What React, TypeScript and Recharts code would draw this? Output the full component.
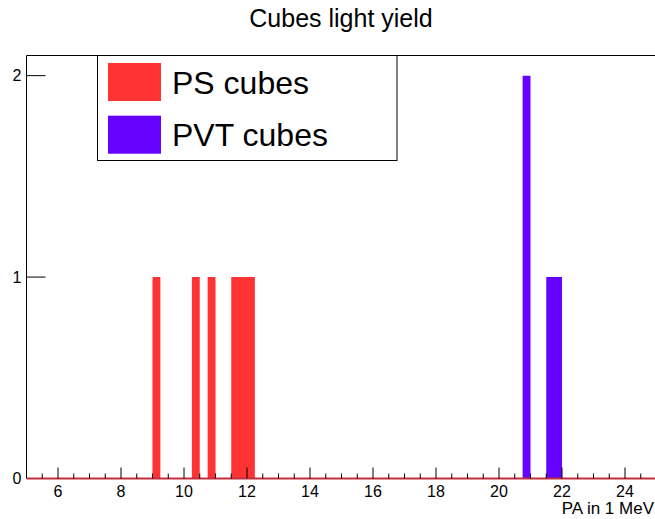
import React from "react";
import {
  ComposedChart,
  Area,
  XAxis,
  YAxis,
  ReferenceLine,
  Legend,
  Customized,
} from "recharts";

// ---- data ----
const BIN_WIDTH = 0.25;
const psBinStarts = [9.0, 10.25, 10.75, 11.5, 11.75, 12.0];
const psCounts = [1, 1, 1, 1, 1, 1];
const pvtBinStarts = [20.75, 21.5, 21.75];
const pvtCounts = [2, 1, 1];

const seriesNames = ["PS cubes", "PVT cubes"];
const seriesKeys = ["ps", "pvt"];
const seriesColors = ["#ff3333", "#6600ff"];

const xMajorTicks = [6, 8, 10, 12, 14, 16, 18, 20, 22, 24];
const xMinorTicks = [
  5.5, 6.5, 7, 7.5, 8.5, 9, 9.5, 10.5, 11, 11.5, 12.5, 13, 13.5, 14.5, 15,
  15.5, 16.5, 17, 17.5, 18.5, 19, 19.5, 20.5, 21, 21.5, 22.5, 23, 23.5, 24.5,
];
const yTicks = [0, 1, 2];
const X_DOMAIN: [number, number] = [5, 25];
const Y_DOMAIN: [number, number] = [0, 2.1];

const TITLE = "Cubes light yield";
const X_TITLE = "PA in 1 MeV";

// build step data (bin edges) from the bin arrays
function countAt(starts: number[], counts: number[], x: number) {
  for (let i = 0; i < starts.length; i++) {
    if (Math.abs(starts[i] - x) < 1e-9) return counts[i];
  }
  return 0;
}
const edgeSet = new Set<number>([X_DOMAIN[0], X_DOMAIN[1]]);
[...psBinStarts, ...pvtBinStarts].forEach((s) => {
  edgeSet.add(s);
  edgeSet.add(+(s + BIN_WIDTH).toFixed(6));
});
const edges = Array.from(edgeSet).sort((a, b) => a - b);
const histData = edges.map((x) => ({
  x,
  ps: countAt(psBinStarts, psCounts, x),
  pvt: countAt(pvtBinStarts, pvtCounts, x),
}));

const FONT = "'Liberation Sans', Arial, Helvetica, sans-serif";
const allXTicks = [...xMajorTicks, ...xMinorTicks].sort((a, b) => a - b);

const XTick = (props: any) => {
  const { x, y, payload } = props;
  const major = xMajorTicks.includes(payload.value);
  return (
    <g>
      <line x1={x} x2={x} y1={y} y2={y - (major ? 11 : 5)} stroke="#000" strokeWidth={1} />
      {major && (
        <text x={x} y={y + 18.5} textAnchor="middle" fontFamily={FONT} fontSize={16} fill="#000">
          {payload.value}
        </text>
      )}
    </g>
  );
};

const YTick = (props: any) => {
  const { x, y, payload } = props;
  return (
    <g>
      {payload.value !== 0 && (
        <line x1={x} x2={x + 19} y1={y} y2={y} stroke="#000" strokeWidth={1} />
      )}
      <text x={x - 5} y={y + 5.5} textAnchor="end" fontFamily={FONT} fontSize={16} fill="#000">
        {payload.value}
      </text>
    </g>
  );
};

const LegendBox = () => (
  <svg width={301} height={106} style={{ display: "block" }}>
    <rect x={0.5} y={0.5} width={299.5} height={105} fill="#fff" stroke="#000" strokeWidth={1} />
    {seriesNames.map((name, i) => (
      <g key={name}>
        <rect x={11} y={8 + i * 52.7} width={53} height={38} fill={seriesColors[i]} />
        <text
          x={75}
          y={39 + i * 51.7}
          fontFamily={FONT}
          fontSize={32}
          fill="#000"
        >
          {name}
        </text>
      </g>
    ))}
  </svg>
);

const Texts = () => (
  <g>
    <text x={341} y={27} textAnchor="middle" fontFamily={FONT} fontSize={25} fill="#000">
      {TITLE}
    </text>
    <text x={654} y={513.5} textAnchor="end" fontFamily={FONT} fontSize={17} fill="#000">
      {X_TITLE}
    </text>
  </g>
);

export default function App() {
  return (
    <div
      style={{
        position: "absolute",
        left: 0,
        top: 0,
        width: 655,
        height: 519,
        overflow: "hidden",
        background: "#fff",
      }}
    >
      <ComposedChart
        width={658}
        height={519}
        data={histData}
        margin={{ top: 55.5, right: 1.5, bottom: 0, left: 0 }}
      >
        <XAxis
          dataKey="x"
          type="number"
          domain={X_DOMAIN}
          allowDataOverflow
          ticks={allXTicks}
          interval={0}
          tick={<XTick />}
          tickLine={false}
          axisLine={false}
          tickSize={0}
          tickMargin={0}
          height={40.5}
        />
        <YAxis
          type="number"
          domain={Y_DOMAIN}
          allowDataOverflow
          ticks={yTicks}
          interval={0}
          tick={<YTick />}
          tickLine={false}
          axisLine={{ stroke: "#000", strokeWidth: 1 }}
          tickSize={0}
          tickMargin={0}
          width={26.5}
        />
        {seriesKeys.map((k, i) => (
          <Area
            key={k}
            type="stepAfter"
            dataKey={k}
            name={seriesNames[i]}
            fill={seriesColors[i]}
            fillOpacity={1}
            stroke="none"
            isAnimationActive={false}
            dot={false}
            activeDot={false}
          />
        ))}
        <ReferenceLine y={Y_DOMAIN[1]} stroke="#000" strokeWidth={1} ifOverflow="visible" />
        <ReferenceLine y={0} stroke="#c42f3f" strokeWidth={2} ifOverflow="visible" />
        <Legend
          layout="horizontal"
          verticalAlign="middle"
          align="center"
          content={() => <LegendBox />}
          wrapperStyle={{ position: "absolute", left: 97, top: 55, width: 301, height: 106 }}
        />
        <Customized component={Texts} />
      </ComposedChart>
    </div>
  );
}
